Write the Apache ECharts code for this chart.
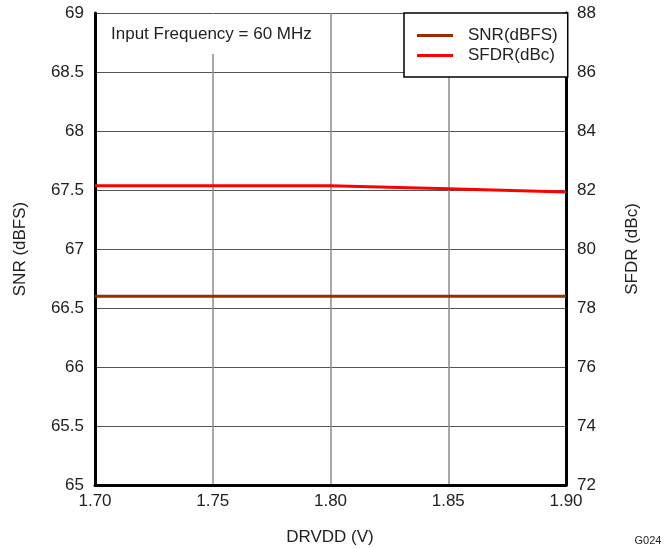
<!DOCTYPE html>
<html>
<head>
<meta charset="utf-8">
<script src="https://cdn.jsdelivr.net/npm/echarts@6/dist/echarts.min.js"></script>
<style>html,body{margin:0;padding:0;background:#fff;}#c{width:669px;height:549px;}</style>
</head>
<body>
<div id="c"></div>
<script>
const drvdd = [1.70, 1.75, 1.80, 1.85, 1.90];
const snr = [66.60, 66.60, 66.60, 66.60, 66.60];
const sfdr = [82.14, 82.14, 82.14, 82.04, 81.93];
const xTicks = ['1.70', '1.75', '1.80', '1.85', '1.90'];

const F = 'Liberation Sans, Arial, sans-serif';
const chart = echarts.init(document.getElementById('c'), null, {renderer: 'canvas'});
chart.setOption({
  animation: false,
  backgroundColor: '#fff',
  textStyle: {fontFamily: F},
  grid: {left: 95, right: 103, top: 13, bottom: 64},
  xAxis: {
    type: 'value', min: 1.70, max: 1.90, interval: 0.05,
    axisLine: {lineStyle: {color: '#000', width: 3}},
    axisTick: {show: false},
    axisLabel: {color: '#222', fontSize: 17, fontFamily: F, margin: 8,
      formatter: v => { const i = Math.round((v - 1.70) / 0.05); return xTicks[i] || ''; }},
    splitLine: {show: true, lineStyle: {color: '#8c8c8c', width: 1.5}}
  },
  yAxis: [
    {type: 'value', min: 65, max: 69, interval: 0.5, position: 'left',
     axisLine: {show: true, lineStyle: {color: '#000', width: 3}},
     axisTick: {show: false},
     axisLabel: {color: '#222', fontSize: 17, fontFamily: F, margin: 11},
     splitLine: {show: true, lineStyle: {color: '#555', width: 1}}},
    {type: 'value', min: 72, max: 88, interval: 2, position: 'right',
     axisLine: {show: true, lineStyle: {color: '#000', width: 3}},
     axisTick: {show: false},
     axisLabel: {color: '#222', fontSize: 17, fontFamily: F, margin: 11},
     splitLine: {show: false}}
  ],
  legend: {
    left: 404, top: 13,
    orient: 'vertical',
    backgroundColor: '#fff', borderColor: '#000', borderWidth: 1.5,
    padding: [14, 10, 13, 13],
    itemGap: 3, itemWidth: 36, itemHeight: 3, icon: 'rect',
    textStyle: {fontSize: 17, fontFamily: F, color: '#222', padding: [0, 0, 0, 10]},
    data: ['SNR(dBFS)', 'SFDR(dBc)']
  },
  series: [
    {name: 'SNR(dBFS)', type: 'line', yAxisIndex: 0, showSymbol: false, symbol: 'none',
     data: drvdd.map((x, i) => [x, snr[i]]), lineStyle: {color: '#9a2a00', width: 3}, itemStyle: {color: '#9a2a00'}},
    {name: 'SFDR(dBc)', type: 'line', yAxisIndex: 1, showSymbol: false, symbol: 'none',
     data: drvdd.map((x, i) => [x, sfdr[i]]), lineStyle: {color: '#ff0000', width: 3}, itemStyle: {color: '#ff0000'}}
  ],
  graphic: [
    {type: 'rect', z: 5, shape: {x: 97, y: 14, width: 230, height: 40}, style: {fill: '#fff'}},
    {type: 'text', z: 6, x: 111, y: 34, style: {text: 'Input Frequency = 60 MHz', font: '17px ' + F, fill: '#222', textVerticalAlign: 'middle'}},
    {type: 'text', x: 20, y: 249, rotation: Math.PI / 2, style: {text: 'SNR (dBFS)', font: '17px ' + F, fill: '#222', textAlign: 'center', textVerticalAlign: 'middle'}},
    {type: 'text', x: 632, y: 249, rotation: Math.PI / 2, style: {text: 'SFDR (dBc)', font: '17px ' + F, fill: '#222', textAlign: 'center', textVerticalAlign: 'middle'}},
    {type: 'text', x: 330, y: 537, style: {text: 'DRVDD (V)', font: '17px ' + F, fill: '#222', textAlign: 'center', textVerticalAlign: 'middle'}},
    {type: 'text', x: 648, y: 541, style: {text: 'G024', font: '11px ' + F, fill: '#222', textAlign: 'center', textVerticalAlign: 'middle'}}
  ]
});
</script>
</body>
</html>
